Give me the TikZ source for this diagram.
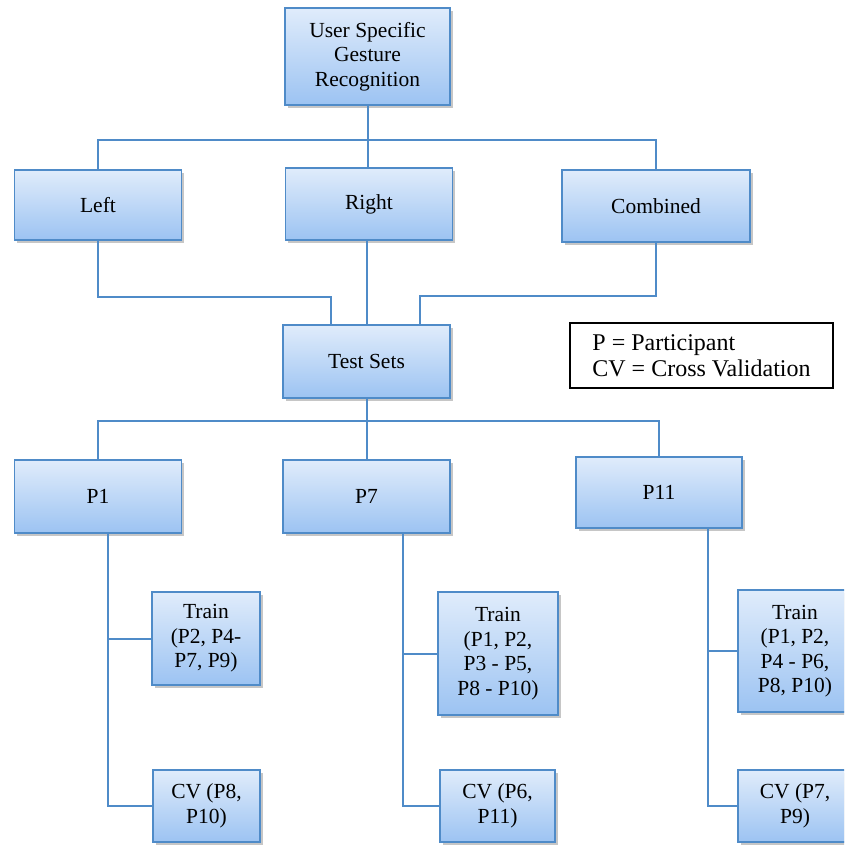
\documentclass[tikz,border=0pt]{standalone}
\usepackage{fontspec}
\setmainfont{Liberation Serif}
\newfontfamily\boxfont{Liberation Serif}
\usetikzlibrary{positioning,calc,shadows}
\definecolor{boxline}{RGB}{79,139,200}
\definecolor{boxtop}{RGB}{224,236,251}
\definecolor{boxbot}{RGB}{156,195,242}
\tikzset{
	gbox/.style={draw=boxline, line width=1.8pt, top color=boxtop, bottom color=boxbot,
		align=center, inner sep=2pt, font=\boxfont\fontsize{21.5}{24.5}\selectfont,
		drop shadow={shadow xshift=2.5pt, shadow yshift=-3pt, opacity=0.45}},
	legendbox/.style={draw=black, line width=1.4pt, fill=white, align=left,
		font=\boxfont\fontsize{24}{26}\selectfont},
	link/.style={draw=boxline, line width=2pt},
}

\begin{document}
\begin{tikzpicture}[x=1pt,y=-1pt]
	\useasboundingbox (0,0) rectangle (844,845);
	\clip (0,0) rectangle (844,845);
	\node[gbox, minimum width=165pt, minimum height=97pt] (top) at (367.5,56.5) {User Specific\\Gesture\\Recognition};
	\node[gbox, minimum width=167pt, minimum height=70pt] (left) at (98,205) {Left};
	\node[gbox, minimum width=167pt, minimum height=72pt] (right) at (369,204) {Right};
	\node[gbox, minimum width=188pt, minimum height=72pt] (comb) at (656,206) {Combined};
	\node[gbox, minimum width=167pt, minimum height=73pt] (test) at (366.5,361.5) {Test Sets};
	\node[legendbox, minimum width=263pt, minimum height=65pt] (legend) at (701.5,355.5) {P = Participant\\CV = Cross Validation};
	\node[gbox, minimum width=167pt, minimum height=73pt] (p1) at (98,496.5) {P1};
	\node[gbox, minimum width=167pt, minimum height=73pt] (p7) at (366.5,496.5) {P7};
	\node[gbox, minimum width=166pt, minimum height=71pt] (p11) at (659,492.5) {P11};
	\node[gbox, minimum width=108pt, minimum height=93pt] (tr1) at (206,638.5) {Train\\(P2, P4-\\P7, P9)};
	\node[gbox, minimum width=107pt, minimum height=72pt] (cv1) at (206.5,806) {CV (P8,\\P10)};
	\node[gbox, minimum width=120pt, minimum height=123pt] (tr7) at (498,653.5) {Train\\(P1, P2,\\P3 - P5,\\P8 - P10)};
	\node[gbox, minimum width=115pt, minimum height=72pt] (cv7) at (497.5,806) {CV (P6,\\P11)};
	\node[gbox, minimum width=114pt, minimum height=122pt] (tr11) at (795,651) {Train\\(P1, P2,\\P4 - P6,\\P8, P10)};
	\node[gbox, minimum width=114pt, minimum height=72pt] (cv11) at (795,806) {CV (P7,\\P9)};
	\coordinate (bus1) at (367,140);
	\coordinate (lj) at (331,297);
	\coordinate (cj) at (420,296);
	\coordinate (bus2) at (367,421);
	\coordinate (s1) at ($(p1.south)+(10,0)$);
	\coordinate (s7) at ($(p7.south)+(36,0)$);
	\coordinate (s11) at ($(p11.south)+(49,0)$);
	\draw[link] (top.south) -- (top.south |- right.north);
	\draw[link] (left.north) |- (bus1) -| (comb.north);
	\draw[link] (left.south) |- (lj) -- (lj |- test.north);
	\draw[link] (test.north) -- (test.north |- right.south);
	\draw[link] (comb.south) |- (cj) -- (cj |- test.north);
	\draw[link] (test) -- (p7);
	\draw[link] (p1.north) |- (bus2) -| (p11.north);
	\draw[link] (s1) |- (tr1.west);
	\draw[link] (s1) |- (cv1.west);
	\draw[link] (s7) |- (tr7.west);
	\draw[link] (s7) |- (cv7.west);
	\draw[link] (s11) |- (tr11.west);
	\draw[link] (s11) |- (cv11.west);
\end{tikzpicture}
\end{document}
